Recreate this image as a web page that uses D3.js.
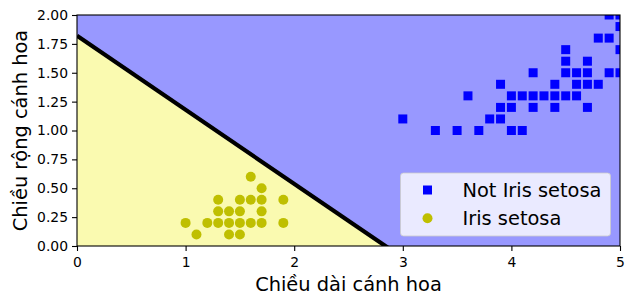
<!DOCTYPE html>
<html>
<head>
<meta charset="utf-8">
<script src="https://cdn.jsdelivr.net/npm/d3@7"></script>
<style>
  body { margin: 0; background: #fff; }
  svg { font-family: "DejaVu Sans", sans-serif; display: block; }
</style>
</head>
<body>
<svg width="633" height="304"></svg>
<script>
"use strict";

// petal length / width, Iris setosa
const setosaLength = [1.6, 1.7, 1.3, 1.5, 1.6, 1.7, 1.9, 1.3, 1.4, 1.5, 1.7, 1.0, 1.2, 1.3, 1.4, 1.5, 1.6, 1.7, 1.9, 1.1, 1.4, 1.5];
const setosaWidth  = [0.6, 0.5, 0.4, 0.4, 0.4, 0.4, 0.4, 0.3, 0.3, 0.3, 0.3, 0.2, 0.2, 0.2, 0.2, 0.2, 0.2, 0.2, 0.2, 0.1, 0.1, 0.1];

// petal length / width, not Iris setosa
const otherLength = [3.0, 3.3, 3.5, 3.7, 3.8, 3.9, 4.0, 4.1, 3.9, 4.0, 4.2, 4.4, 4.7,
  3.6, 4.0, 4.1, 4.2, 4.3, 4.4, 4.5, 4.6, 3.9, 4.4, 4.6, 4.7, 4.8,
  4.2, 4.5, 4.6, 4.7, 4.9, 5.0, 4.5, 4.7, 4.5, 5.0, 4.8, 4.9, 5.0, 4.9, 5.0];
const otherWidth = [1.1, 1.0, 1.0, 1.0, 1.1, 1.1, 1.0, 1.0, 1.2, 1.2, 1.2, 1.2, 1.2,
  1.3, 1.3, 1.3, 1.3, 1.3, 1.3, 1.3, 1.3, 1.4, 1.4, 1.4, 1.4, 1.4,
  1.5, 1.5, 1.5, 1.5, 1.5, 1.5, 1.6, 1.6, 1.7, 1.7, 1.8, 1.8, 1.9, 2.0, 2.0];

// decision boundary: width at length 0, and length where width = 0
const boundary = { intercept: 1.82, xIntercept: 2.84 };

const xTicks = [0, 1, 2, 3, 4, 5];
const yTicks = [0, 0.25, 0.5, 0.75, 1.0, 1.25, 1.5, 1.75, 2.0];

const svg = d3.select("svg");
const margin = { top: 15, right: 13, bottom: 58, left: 77 };
const innerWidth = +svg.attr("width") - margin.left - margin.right;
const innerHeight = +svg.attr("height") - margin.top - margin.bottom;

const x = d3.scaleLinear().domain([0, 5]).range([0, innerWidth]);
const y = d3.scaleLinear().domain([0, 2]).range([innerHeight, 0]);

const g = svg.append("g").attr("transform", `translate(${margin.left},${margin.top})`);

g.append("clipPath").attr("id", "clip")
  .append("rect").attr("width", innerWidth).attr("height", innerHeight);

const plot = g.append("g").attr("clip-path", "url(#clip)");

// regions
plot.append("rect")
  .attr("width", innerWidth).attr("height", innerHeight)
  .attr("fill", "#9898ff");

const slope = -boundary.intercept / boundary.xIntercept;
const lineY = v => boundary.intercept + slope * v;

plot.append("path")
  .attr("d", d3.line()([[x(0), y(0)], [x(0), y(lineY(0))], [x(boundary.xIntercept), y(0)]]))
  .attr("fill", "#fafab0");

plot.append("line")
  .attr("x1", x(0)).attr("y1", y(lineY(0)))
  .attr("x2", x(5)).attr("y2", y(lineY(5)))
  .attr("stroke", "#000").attr("stroke-width", 4.2);

const sq = 9;
plot.selectAll(".sq")
  .data(d3.zip(otherLength, otherWidth))
  .enter().append("rect")
  .attr("class", "sq")
  .attr("x", d => x(d[0]) - sq / 2)
  .attr("y", d => y(d[1]) - sq / 2)
  .attr("width", sq).attr("height", sq)
  .attr("fill", "#0000ff");

plot.selectAll(".dot")
  .data(d3.zip(setosaLength, setosaWidth))
  .enter().append("circle")
  .attr("class", "dot")
  .attr("cx", d => x(d[0]))
  .attr("cy", d => y(d[1]))
  .attr("r", 5)
  .attr("fill", "#bfbf00");

// axes
const xAxis = d3.axisBottom(x).tickValues(xTicks).tickFormat(d3.format("d")).tickSize(5).tickPadding(6);
const yAxis = d3.axisLeft(y).tickValues(yTicks).tickFormat(d3.format(".2f")).tickSize(5).tickPadding(4);

const xAxisG = g.append("g").attr("transform", `translate(0,${innerHeight})`).call(xAxis);
const yAxisG = g.append("g").call(yAxis);

[xAxisG, yAxisG].forEach(a => {
  a.select(".domain").remove();
  a.selectAll("text").attr("font-size", 13.9).attr("font-family", "DejaVu Sans").attr("fill", "#000");
  a.selectAll("line").attr("stroke", "#000").attr("stroke-width", 1.1);
});

g.append("rect")
  .attr("width", innerWidth).attr("height", innerHeight)
  .attr("fill", "none").attr("stroke", "#000").attr("stroke-width", 1.1);

// axis labels
g.append("text")
  .attr("x", innerWidth / 2).attr("y", innerHeight + 45)
  .attr("text-anchor", "middle").attr("font-size", 19.4)
  .text("Chiều dài cánh hoa");

g.append("text")
  .attr("transform", `translate(${27 - margin.left},${innerHeight / 2}) rotate(-90)`)
  .attr("text-anchor", "middle").attr("font-size", 19.4)
  .text("Chiều rộng cánh hoa");

// legend
const legend = svg.append("g").attr("transform", "translate(400.5,173)");
legend.append("rect")
  .attr("width", 210).attr("height", 63).attr("rx", 3)
  .attr("fill", "#fff").attr("fill-opacity", 0.8)
  .attr("stroke", "#ccc").attr("stroke-opacity", 0.8);

const items = [
  { label: "Not Iris setosa", color: "#0000ff", shape: "square" },
  { label: "Iris setosa", color: "#bfbf00", shape: "circle" }
];

items.forEach((it, i) => {
  const row = legend.append("g").attr("transform", `translate(0,${17 + i * 28.3})`);
  if (it.shape === "square") {
    row.append("rect").attr("x", 27 - sq / 2).attr("y", -sq / 2)
      .attr("width", sq).attr("height", sq).attr("fill", it.color);
  } else {
    row.append("circle").attr("cx", 27).attr("r", 5).attr("fill", it.color);
  }
  row.append("text").attr("x", 62).attr("dy", "0.35em")
    .attr("font-size", 19.4).text(it.label);
});
</script>
</body>
</html>
